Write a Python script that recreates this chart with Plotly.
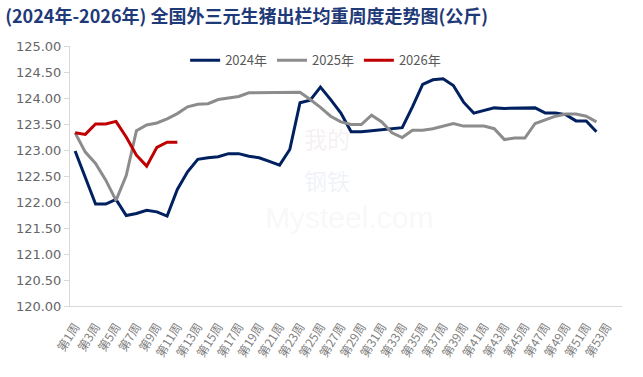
import plotly.graph_objects as go

weeks = [f"第{i}周" for i in range(1, 55)]
tick_labels = [f"第{i}周" for i in range(1, 54, 2)]

y2024 = [122.98, 122.45, 121.96, 121.96, 122.05, 121.74, 121.78, 121.84, 121.81, 121.73,
         122.24, 122.58, 122.82, 122.85, 122.87, 122.93, 122.93, 122.88, 122.85, 122.78,
         122.71, 123.01, 123.91, 123.96, 124.21, 123.97, 123.71, 123.35, 123.35, 123.37,
         123.39, 123.41, 123.43, 123.83, 124.26, 124.35, 124.37, 124.24, 123.92, 123.71,
         123.76, 123.81, 123.80, 123.80, 123.81, 123.81, 123.71, 123.71, 123.68, 123.56,
         123.56, 123.35]
y2025 = [123.33, 122.96, 122.74, 122.42, 122.03, 122.51, 123.37, 123.48, 123.52, 123.60,
         123.70, 123.83, 123.88, 123.89, 123.97, 124.00, 124.03, 124.10, 124.10, 124.10,
         124.11, 124.11, 124.11, 123.97, 123.82, 123.65, 123.54, 123.49, 123.49, 123.67,
         123.54, 123.33, 123.24, 123.38, 123.38, 123.41, 123.46, 123.51, 123.46, 123.46,
         123.46, 123.41, 123.20, 123.23, 123.23, 123.51, 123.58, 123.65, 123.69, 123.69,
         123.65, 123.54]
y2026 = [123.33, 123.30, 123.50, 123.50, 123.55, 123.25, 122.90, 122.69, 123.05, 123.15, 123.15]

series = [("2024年", y2024, "#002060"), ("2025年", y2025, "#8C8C8C"), ("2026年", y2026, "#C00000")]

fig = go.Figure()
for name, ys, color in series:
    fig.add_trace(go.Scatter(x=weeks[:len(ys)], y=ys, name=name, mode="lines",
                             line=dict(color=color, width=3)))

# faint watermark
fig.add_annotation(text="我的", x=0.466, y=0.645, xref="paper", yref="paper", showarrow=False,
                   font=dict(size=23, color="rgba(210,190,200,0.22)", family="Noto Sans CJK SC"))
fig.add_annotation(text="钢铁", x=0.466, y=0.485, xref="paper", yref="paper", showarrow=False,
                   font=dict(size=23, color="rgba(190,200,225,0.22)", family="Noto Sans CJK SC"))
fig.add_annotation(text="Mysteel.com", x=0.505, y=0.34, xref="paper", yref="paper", showarrow=False,
                   font=dict(size=30, color="rgba(215,215,215,0.18)", family="Liberation Sans"))

fig.update_layout(
    width=643, height=377,
    margin=dict(l=70, r=21, t=46, b=71, autoexpand=False),
    paper_bgcolor="white", plot_bgcolor="white",
    title=dict(text="(2024年-2026年) 全国外三元生猪出栏均重周度走势图(公斤)",
               x=0.008, xanchor="left", y=0.972, yanchor="top",
               font=dict(size=18, color="#1F3A78", family="Noto Sans CJK SC", weight="bold")),
    legend=dict(orientation="h", x=0.445, xanchor="center", y=0.945, yanchor="middle",
                font=dict(size=13, color="#595959", family="Noto Sans CJK SC"),
                bgcolor="rgba(0,0,0,0)"),
    xaxis=dict(type="category", categoryorder="array", categoryarray=weeks, automargin=False,
               range=[-0.5, 53.5], tickmode="array", tickvals=tick_labels, ticktext=tick_labels,
               tickangle=-58, ticklabelstandoff=8,
               tickfont=dict(size=12, color="#7F7F7F", family="Noto Sans CJK SC"),
               showline=True, linecolor="#D9D9D9", linewidth=1, showgrid=False,
               ticks="", zeroline=False),
    yaxis=dict(range=[120, 125], tickmode="linear", tick0=120, dtick=0.5, tickformat=".2f",
               automargin=False,
               tickfont=dict(size=13, color="#666666", family="DejaVu Sans"),
               showline=True, linecolor="#D9D9D9", linewidth=1, showgrid=False,
               ticks="outside", ticklen=5, tickcolor="#D9D9D9", zeroline=False),
)

fig.write_html("out.html", config={"displayModeBar": False},
               post_script="document.body.style.margin='0';document.body.style.padding='0';")
